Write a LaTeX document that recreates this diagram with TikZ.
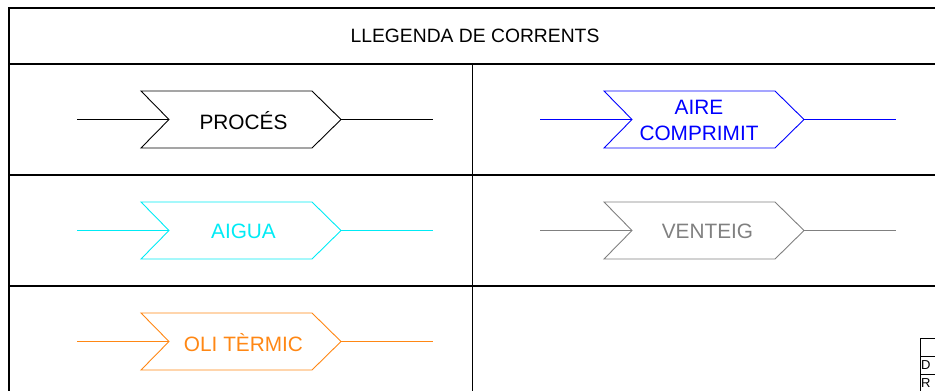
\documentclass[tikz,border=0pt]{standalone}
\usepackage{fontspec}
\setmainfont{Liberation Sans}
\definecolor{cblue}{RGB}{0,0,255}
\definecolor{ccyan}{RGB}{0,235,245}
\definecolor{cgray}{RGB}{128,128,128}
\definecolor{corange}{RGB}{255,135,20}
\begin{document}
\begin{tikzpicture}[x=1pt,y=-1pt,
  frame/.style={line width=1.3pt,black},
  thin/.style={line width=0.9pt},
  conn/.style={line width=1.1pt},
  lbl/.style={font=\fontsize{20.8}{26.5}\selectfont,align=center,inner sep=0pt},
  ttl/.style={font=\fontsize{19.3}{22}\selectfont,inner sep=0pt}]
\useasboundingbox (0,0) rectangle (935,391);
\clip (0,0) rectangle (935,391);
% frame
\draw[frame] (960,8) -- (9,8) -- (9,400);
\draw[frame] (9,64) -- (960,64);
\draw[frame] (9,175) -- (960,175);
\draw[frame] (9,286) -- (960,286);
\draw[frame] (472.5,64) -- (472.5,400);
\node[ttl] (title) at (475,36) {LLEGENDA DE CORRENTS};
% stream symbols
\newcommand{\streamsym}[6]{% x offset, y center, colour, name, text x, text
  \begin{scope}[shift={(#1,#2)}]
    \coordinate (#4a) at (77,0);
    \coordinate (#4n) at (169,0);
    \coordinate (#4p) at (341,0);
    \coordinate (#4b) at (433,0);
    \draw[conn,draw=#3] (#4a) -- (#4n);
    \draw[thin,draw=#3] (141,-28.5) -- (#4n) -- (141,28.5) -- (312,28.5) -- (#4p) -- (312,-28.5) -- cycle;
    \draw[conn,draw=#3] (#4p) -- (#4b);
    \node[lbl,text=#3] (#4t) at (#5,1) {#6};
  \end{scope}}
\streamsym{0}{119.5}{black}{proc}{243.5}{PROCÉS}
\streamsym{463}{119.5}{cblue}{aire}{236}{AIRE\\COMPRIMIT}
\streamsym{0}{230.5}{ccyan}{aigua}{243.5}{AIGUA}
\streamsym{463}{230.5}{cgray}{vent}{244.5}{VENTEIG}
\streamsym{0}{341.5}{corange}{oli}{243.5}{OLI TÈRMIC}
% title block corner
\draw[line width=0.8pt] (960,338) -- (920,338) -- (920,400);
\draw[line width=0.8pt] (920,356) -- (960,356);
\draw[line width=0.8pt] (920,374) -- (960,374);
\node[anchor=west,inner sep=0pt,font=\fontsize{13}{15}\selectfont] (d) at (921,365.5) {D};
\node[anchor=west,inner sep=0pt,font=\fontsize{13}{15}\selectfont] (r) at (921,383) {R};
\end{tikzpicture}
\end{document}
